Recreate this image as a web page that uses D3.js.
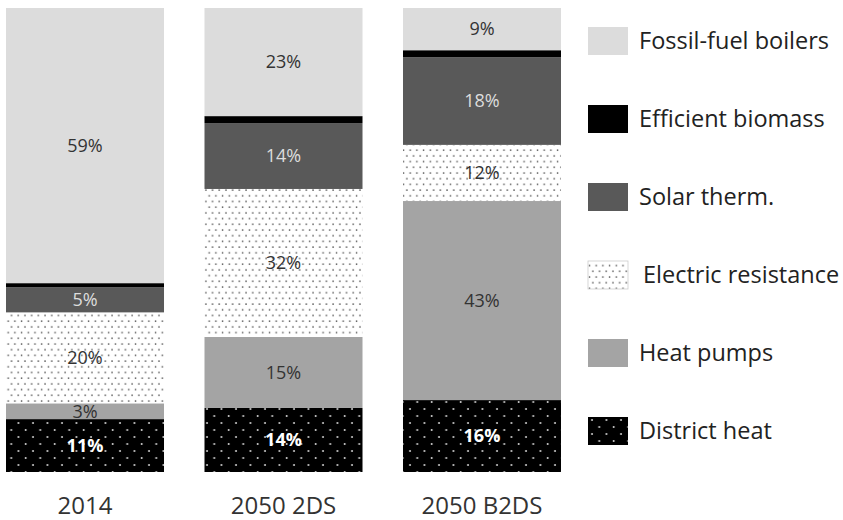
<!DOCTYPE html>
<html>
<head>
<meta charset="utf-8">
<script src="https://cdn.jsdelivr.net/npm/d3@7"></script>
<style>
  body { margin: 0; background: #fff; }
  svg { display: block; font-family: "Open Sans", sans-serif; }
</style>
</head>
<body>
<div id="vis"></div>
<script>
// scenarios
var categories = ["2014", "2050 2DS", "2050 B2DS"];

// shares (%) per technology, bottom to top of each bar
var districtHeat   = [11.4, 13.8, 15.5];
var heatPumps      = [3.4, 15.3, 42.9];
var electricRes    = [19.6, 31.9, 12.1];
var solarTherm     = [5.4, 14.2, 18.9];
var effBiomass     = [0.9, 1.5, 1.5];
var fossilBoilers  = [59.3, 23.3, 9.1];

// printed labels (null = no label)
var districtLabels = ["11%", "14%", "16%"];
var heatPumpLabels = ["3%", "15%", "43%"];
var electricLabels = ["20%", "32%", "12%"];
var solarLabels    = ["5%", "14%", "18%"];
var biomassLabels  = [null, null, null];
var fossilLabels   = ["59%", "23%", "9%"];

var seriesKeys = ["district", "heatpumps", "electric", "solar", "biomass", "fossil"];
var seriesNames = ["District heat", "Heat pumps", "Electric resistance", "Solar therm.", "Efficient biomass", "Fossil-fuel boilers"];

var width = 843, height = 520;

var svg = d3.select("#vis").append("svg")
    .attr("width", width)
    .attr("height", height);

// patterns
var defs = svg.append("defs");
var pElec = defs.append("pattern")
    .attr("id", "dotsWhite")
    .attr("patternUnits", "userSpaceOnUse")
    .attr("width", 6.7).attr("height", 11.4);
pElec.append("rect").attr("width", 6.7).attr("height", 11.4).attr("fill", "#fff");
pElec.append("circle").attr("cx", 1.5).attr("cy", 2).attr("r", 0.85).attr("fill", "#555");
pElec.append("circle").attr("cx", 4.85).attr("cy", 7.7).attr("r", 0.85).attr("fill", "#555");

var pDist = defs.append("pattern")
    .attr("id", "dotsBlack")
    .attr("patternUnits", "userSpaceOnUse")
    .attr("width", 14.5).attr("height", 14);
pDist.append("rect").attr("width", 14.5).attr("height", 14).attr("fill", "#000");
pDist.append("circle").attr("cx", 4).attr("cy", 3).attr("r", 0.95).attr("fill", "#ddd");
pDist.append("circle").attr("cx", 11.25).attr("cy", 10).attr("r", 0.95).attr("fill", "#ddd");

var fills = {
  district: "url(#dotsBlack)",
  heatpumps: "#a4a4a4",
  electric: "url(#dotsWhite)",
  solar: "#595959",
  biomass: "#000",
  fossil: "#dcdcdc"
};
var labelColor = {
  district: "#fff",
  heatpumps: "#333",
  electric: "#333",
  solar: "#ddd",
  biomass: "#fff",
  fossil: "#333"
};

// build table for stacking
var table = categories.map(function (c, i) {
  return {
    cat: c,
    district: districtHeat[i],
    heatpumps: heatPumps[i],
    electric: electricRes[i],
    solar: solarTherm[i],
    biomass: effBiomass[i],
    fossil: fossilBoilers[i]
  };
});
var labelTable = {
  district: districtLabels,
  heatpumps: heatPumpLabels,
  electric: electricLabels,
  solar: solarLabels,
  biomass: biomassLabels,
  fossil: fossilLabels
};

var stacked = d3.stack().keys(seriesKeys)(table);

var x = d3.scaleBand()
    .domain(categories)
    .range([6, 561])
    .paddingInner(0.204)
    .paddingOuter(0);

var y = d3.scaleLinear()
    .domain([0, 100])
    .range([472, 8]);

var layers = svg.selectAll(".layer")
    .data(stacked)
    .enter().append("g")
    .attr("class", "layer");

layers.selectAll("rect")
    .data(function (d) { return d; })
    .enter().append("rect")
    .attr("x", function (d) { return x(d.data.cat); })
    .attr("y", function (d) { return y(d[1]); })
    .attr("width", x.bandwidth())
    .attr("height", function (d) { return y(d[0]) - y(d[1]); })
    .attr("fill", function (d, i, nodes) { return fills[d3.select(nodes[i].parentNode).datum().key]; });

// segment labels
layers.each(function (s) {
  var key = s.key;
  d3.select(this).selectAll("text")
      .data(s.filter(function (d, i) { return labelTable[key][i] !== null; }))
      .enter().append("text")
      .attr("x", function (d) { return x(d.data.cat) + x.bandwidth() / 2; })
      .attr("y", function (d) { return (y(d[0]) + y(d[1])) / 2; })
      .attr("dy", "0.35em")
      .attr("text-anchor", "middle")
      .attr("font-size", 18)
      .attr("font-weight", key === "district" ? "bold" : "normal")
      .attr("fill", labelColor[key])
      .text(function (d) { return labelTable[key][categories.indexOf(d.data.cat)]; });
});

// category axis labels
svg.selectAll(".cat")
    .data(categories)
    .enter().append("text")
    .attr("class", "cat")
    .attr("x", function (d) { return x(d) + x.bandwidth() / 2; })
    .attr("y", 506)
    .attr("dy", "0.35em")
    .attr("text-anchor", "middle")
    .attr("font-size", 24)
    .attr("fill", "#333")
    .text(function (d) { return d; });

// legend, top to bottom
var legendKeys = seriesKeys.slice().reverse();
var legendNames = seriesNames.slice().reverse();
var ly = d3.scalePoint()
    .domain(legendKeys)
    .range([41, 431]);

var legend = svg.selectAll(".legend")
    .data(legendKeys)
    .enter().append("g")
    .attr("class", "legend")
    .attr("transform", function (d) { return "translate(588," + ly(d) + ")"; });

legend.append("rect")
    .attr("x", 0)
    .attr("y", -14)
    .attr("width", 40)
    .attr("height", 28)
    .attr("fill", function (d) { return fills[d]; })
    .attr("stroke", function (d) { return d === "electric" ? "#ccc" : "none"; })
    .attr("stroke-width", 0.8);

legend.append("text")
    .attr("x", function (d) { return d === "electric" ? 55 : 51; })
    .attr("y", 0)
    .attr("dy", "0.35em")
    .attr("font-size", 23.5)
    .attr("fill", "#222")
    .text(function (d, i) { return legendNames[i]; });
</script>
</body>
</html>
